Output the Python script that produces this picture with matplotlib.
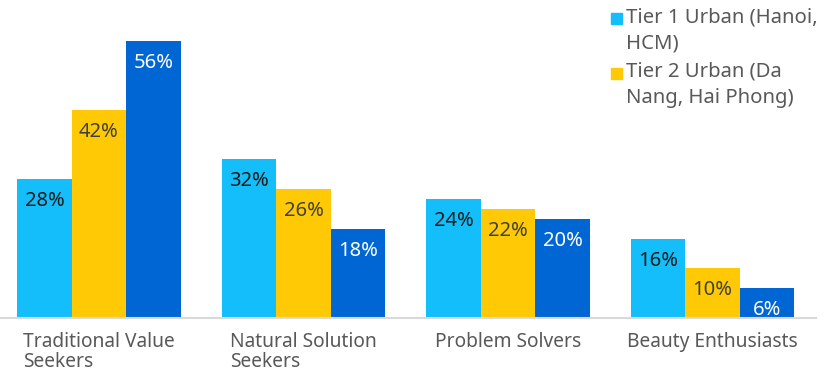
import matplotlib
matplotlib.use("Agg")
import matplotlib.pyplot as plt
import numpy as np
from matplotlib.patches import Rectangle

plt.rcParams['font.family'] = ['Noto Sans', 'DejaVu Sans']

categories = ['Traditional Value\nSeekers', 'Natural Solution\nSeekers',
              'Problem Solvers', 'Beauty Enthusiasts']
tier1 = [28, 32, 24, 16]
tier2 = [42, 26, 22, 10]
tier3 = [56, 18, 20, 6]
legend_names = ['Tier 1 Urban (Hanoi,\nHCM)', 'Tier 2 Urban (Da\nNang, Hai Phong)']

colors = ['#13BEFA', '#FFCA05', '#0066D3']
label_colors = ['#1a1a1a', '#404040', '#ffffff']

W, H = 827, 376
fig = plt.figure(figsize=(W / 100, H / 100), dpi=100)
ax = fig.add_axes([0, (H - 318) / H, 816 / W, 318 / H])

x = np.arange(len(categories))
bw = 0.267
for i, vals in enumerate([tier1, tier2, tier3]):
    pos = x + (i - 1) * bw
    ax.bar(pos, vals, width=bw, color=colors[i], zorder=2)
    for px, v in zip(pos, vals):
        ax.annotate(f'{v}%', xy=(px, v), xytext=(0, -22), textcoords='offset pixels',
                    ha='center', va='center', fontsize=14.5, color=label_colors[i])

ax.set_xlim(-0.484, 3.506)
ax.set_ylim(0, 64.2)
ax.set_yticks([])
ax.set_xticks(x)
ax.set_xticklabels(categories, fontsize=13.8, color='#595959', multialignment='left',
                   linespacing=1.0)
ax.tick_params(axis='x', length=0, pad=10)
for s in ['top', 'left', 'right']:
    ax.spines[s].set_visible(False)
ax.spines['bottom'].set_color('#d9d9d9')
ax.spines['bottom'].set_linewidth(1.5)

# legend (only the first two entries fit in the frame)
ytops = [12, 67]
for name, c, yt in zip(legend_names, colors, ytops):
    fig.patches.append(Rectangle((611 / W, 1 - (yt + 12) / H), 11 / W, 11 / H,
                                 transform=fig.transFigure, color=c))
    fig.text(626 / W, 1 - (yt - 5) / H, name, ha='left', va='top', fontsize=14.6,
             color='#595959', linespacing=1.4)

fig.savefig('out.png', dpi=100)
